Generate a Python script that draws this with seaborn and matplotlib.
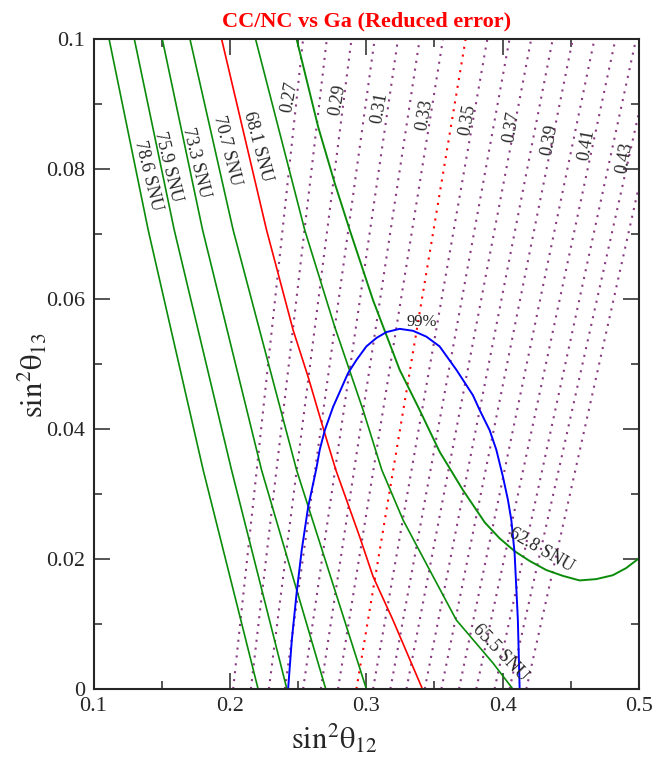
import numpy as np
import pandas as pd
import matplotlib
matplotlib.use('Agg')
import matplotlib.pyplot as plt
import seaborn as sns
from matplotlib.ticker import MultipleLocator, FuncFormatter

# SNU iso-lines (Ga rate), read at sin^2(theta13) = 0.1, 0.0706, 0.0337, 0
snu_y = [0.1, 0.0706, 0.0337, 0.0]
snu_786_x = [0.1114, 0.1401, 0.1804, 0.2207]
snu_759_x = [0.1299, 0.1592, 0.2012, 0.2418]
snu_733_x = [0.1504, 0.1800, 0.2232, 0.2703]
snu_707_x = [0.1707, 0.2024, 0.2489, 0.3001]

snu_681_x = [0.1939, 0.2269, 0.2464, 0.2574, 0.2696, 0.2777, 0.2952, 0.3050, 0.3196, 0.3412]
snu_681_y = [0.1, 0.0706, 0.0552, 0.0480, 0.0393, 0.0337, 0.0234, 0.0173, 0.0106, 0.0]

snu_655_x = [0.2188, 0.2549, 0.2769, 0.2977, 0.3114, 0.3270, 0.3465, 0.3661, 0.3929, 0.4075]
snu_655_y = [0.1, 0.0706, 0.0557, 0.0429, 0.0337, 0.0260, 0.0183, 0.0106, 0.0040, 0.0]

snu_628_x = [0.2489, 0.2647, 0.2769, 0.2879, 0.3050, 0.3245, 0.3392, 0.3538, 0.3709, 0.3870,
             0.3977, 0.4088, 0.4198, 0.4320, 0.4442, 0.4564, 0.4686, 0.4808, 0.4906, 0.5]
snu_628_y = [0.1, 0.0865, 0.0778, 0.0706, 0.0598, 0.0491, 0.0429, 0.0365, 0.0306, 0.0256,
             0.0232, 0.0212, 0.0197, 0.0183, 0.0174, 0.0167, 0.0169, 0.0175, 0.0186, 0.0201]

# 99% CL contour
cl99_x = [0.2427, 0.2454, 0.2489, 0.2527, 0.2574, 0.2635, 0.2659, 0.2696, 0.2757, 0.2867,
          0.2928, 0.3001, 0.3075, 0.3148, 0.3245, 0.3343, 0.3441, 0.3538, 0.3661, 0.3782,
          0.3832, 0.3905, 0.3954, 0.4002, 0.4039, 0.4064, 0.4088, 0.4112, 0.4125]
cl99_y = [0.0, 0.0075, 0.0147, 0.0214, 0.0280, 0.0340, 0.0368, 0.0398, 0.0434, 0.0486,
          0.0506, 0.0527, 0.0540, 0.0549, 0.0554, 0.0551, 0.0542, 0.0527, 0.0491, 0.0452,
          0.0429, 0.0398, 0.0368, 0.0327, 0.0291, 0.0260, 0.0209, 0.0106, 0.0]

# CC/NC ratio iso-lines: sin^2(theta12) at sin^2(theta13)=0 and 0.1
ratio_vals = [0.27, 0.28, 0.29, 0.30, 0.31, 0.32, 0.33, 0.34, 0.35,
              0.36, 0.37, 0.38, 0.39, 0.40, 0.41, 0.42, 0.43, 0.44]
ratio_x_bottom = [0.2024, 0.2154, 0.2286, 0.2403, 0.2537, 0.2667, 0.2793, 0.2928, 0.3050,
                  0.3177, 0.3295, 0.3429, 0.3551, 0.3680, 0.3807, 0.3941, 0.4051, 0.4174]
ratio_x_top = [0.2537, 0.2711, 0.2892, 0.3062, 0.3233, 0.3392, 0.3563, 0.3729, 0.3888,
               0.4051, 0.4210, 0.4368, 0.4515, 0.4674, 0.4828, 0.4979, 0.5121, 0.5242]
ratio_labels = ['0.27', '0.29', '0.31', '0.33', '0.35', '0.37', '0.39', '0.41', '0.43']

sns.set_style('ticks')
plt.rcParams['font.family'] = ['Liberation Serif', 'DejaVu Serif']
plt.rcParams['mathtext.fontset'] = 'stix'

fig = plt.figure(figsize=(6.54, 7.63), dpi=100)
ax = fig.add_axes([0.143, 0.097, 0.834, 0.852])

green = '#0a8c0a'
purple = '#8a3a80'

# dotted ratio lines
for r, xb, xt in zip(ratio_vals, ratio_x_bottom, ratio_x_top):
    col = 'red' if abs(r - 0.34) < 1e-6 else purple
    sns.lineplot(x=[xb, xt], y=[0.0, 0.1], sort=False, estimator=None, color=col,
                 lw=1.5, linestyle=(0, (1, 2.8)), ax=ax)

for xs in [snu_786_x, snu_759_x, snu_733_x, snu_707_x]:
    sns.lineplot(x=xs, y=snu_y, sort=False, estimator=None, color=green, lw=1.2, ax=ax)
sns.lineplot(x=snu_681_x, y=snu_681_y, sort=False, estimator=None, color='red', lw=1.2, ax=ax)
sns.lineplot(x=snu_655_x, y=snu_655_y, sort=False, estimator=None, color=green, lw=1.2, ax=ax)
sns.lineplot(x=snu_628_x, y=snu_628_y, sort=False, estimator=None, color=green, lw=1.4, ax=ax)
sns.lineplot(x=cl99_x, y=cl99_y, sort=False, estimator=None, color='blue', lw=1.4, ax=ax)

# labels
lab_kw = dict(fontsize=13, ha='center', va='center', rotation_mode='anchor')
ax.text(0.1401, 0.0790, '78.6 SNU', rotation=-76, **lab_kw)
ax.text(0.1548, 0.0803, '75.9 SNU', rotation=-76, **lab_kw)
ax.text(0.1751, 0.0810, '73.3 SNU', rotation=-76, **lab_kw)
ax.text(0.1980, 0.0828, '70.7 SNU', rotation=-76, **lab_kw)
ax.text(0.2200, 0.0834, '68.1 SNU', rotation=-75, **lab_kw)
ax.text(0.3985, 0.0056, '65.5 SNU', rotation=-46, **lab_kw)
ax.text(0.4284, 0.0214, '62.8 SNU', rotation=-30, **lab_kw)
ax.text(0.3404, 0.0565, '99%', fontsize=12, ha='center', va='center')

ratio_lab_x = [0.2440, 0.2791, 0.3099, 0.3429, 0.3744, 0.4064, 0.4344, 0.4613, 0.4894]
ratio_lab_y = [0.0911, 0.0906, 0.0894, 0.0883, 0.0875, 0.0865, 0.0845, 0.0837, 0.0817]
for t, lx, ly in zip(ratio_labels, ratio_lab_x, ratio_lab_y):
    ax.text(lx, ly, t, rotation=80, **lab_kw)

ax.set_xlim(0.1, 0.5)
ax.set_ylim(0, 0.1)
ax.xaxis.set_major_locator(MultipleLocator(0.1))
ax.xaxis.set_minor_locator(MultipleLocator(0.05))
ax.yaxis.set_major_locator(MultipleLocator(0.02))
ax.yaxis.set_minor_locator(MultipleLocator(0.01))
fmt = FuncFormatter(lambda v, p: '%g' % round(v, 4))
ax.xaxis.set_major_formatter(fmt)
ax.yaxis.set_major_formatter(fmt)
ax.tick_params(which='both', direction='in', top=True, right=True, width=1.1, labelsize=16)
ax.tick_params(which='major', length=11.5, pad=6)
ax.tick_params(which='minor', length=5.8)
for s in ax.spines.values():
    s.set_linewidth(1.5)

ax.set_xlabel(r'$\mathrm{sin^2\theta_{12}}$', fontsize=22)
ax.set_ylabel(r'$\mathrm{sin^2\theta_{13}}$', fontsize=22)
ax.xaxis.set_label_coords(0.441, -0.051)
ax.yaxis.set_label_coords(-0.08, 0.483)
ax.set_title('CC/NC vs Ga (Reduced error)', color='red', fontweight='bold', fontsize=16, pad=9)

fig.savefig('out.png', dpi=100)
